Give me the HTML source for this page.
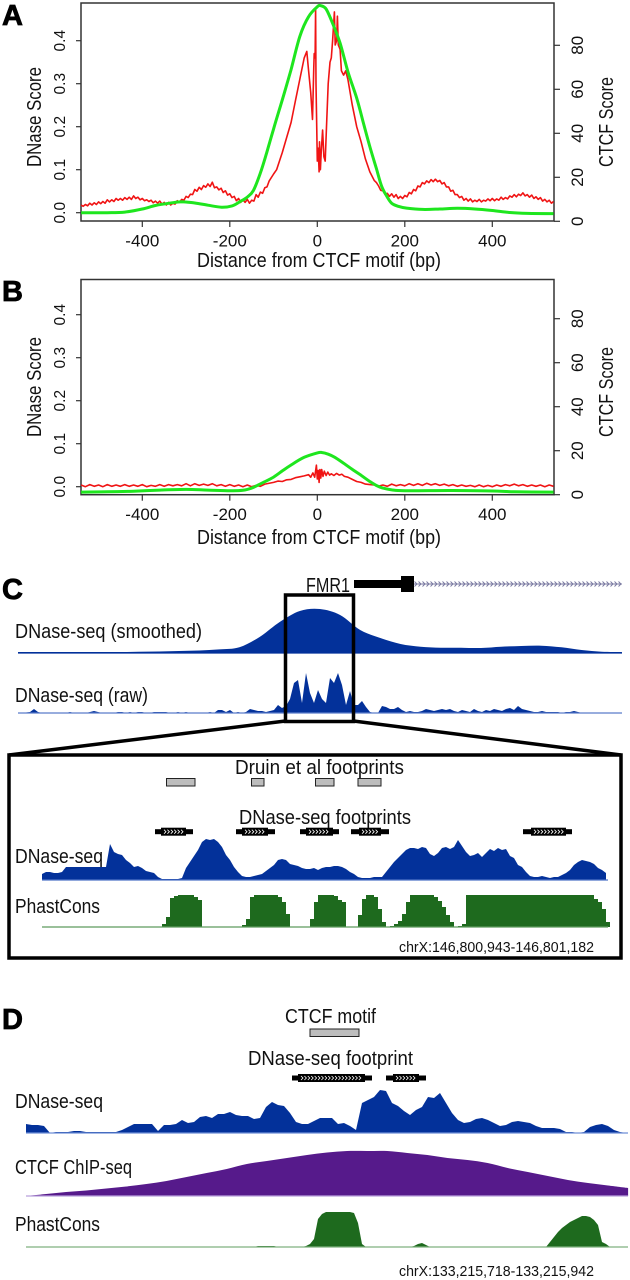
<!DOCTYPE html>
<html lang="en">
<head>
<meta charset="utf-8">
<title>CTCF footprint figure</title>
<style>
html,body{margin:0;padding:0;background:#fff;width:630px;height:1280px;overflow:hidden}
svg{display:block}
text{font-family:"Liberation Sans",sans-serif;fill:#111}
.lbl{font-size:20px}
.tick{font-size:17px}
.tickl{font-size:15.5px}
.coord{font-size:14.5px}
.letter{font-size:29px;font-weight:bold;fill:#000;stroke:#000;stroke-width:.8px}
</style>
</head>
<body>
<svg id="fig" xmlns="http://www.w3.org/2000/svg" width="630" height="1280" viewBox="0 0 630 1280">
<rect width="630" height="1280" fill="#fff"/>
<g id="chart-a"></g>
<g id="chart-b"></g>
<g id="tracks"></g>

<text class="letter" x="2" y="25">A</text>
<text class="letter" x="2" y="301">B</text>
<text class="letter" x="2" y="599">C</text>
<text class="letter" x="2" y="1029">D</text>

<text class="lbl" x="197" y="267" textLength="244" lengthAdjust="spacingAndGlyphs">Distance from CTCF motif (bp)</text>
<text class="lbl" x="197" y="544" textLength="244" lengthAdjust="spacingAndGlyphs">Distance from CTCF motif (bp)</text>
<text class="lbl" transform="translate(41,167) rotate(-90)" textLength="100" lengthAdjust="spacingAndGlyphs">DNase Score</text>
<text class="lbl" transform="translate(41,437) rotate(-90)" textLength="100" lengthAdjust="spacingAndGlyphs">DNase Score</text>
<text class="lbl" transform="translate(613,167) rotate(-90)" textLength="90" lengthAdjust="spacingAndGlyphs">CTCF Score</text>
<text class="lbl" transform="translate(613,437) rotate(-90)" textLength="90" lengthAdjust="spacingAndGlyphs">CTCF Score</text>

<text class="lbl" x="306" y="592" textLength="44" lengthAdjust="spacingAndGlyphs">FMR1</text>
<text class="lbl" x="15" y="638" textLength="187" lengthAdjust="spacingAndGlyphs">DNase-seq (smoothed)</text>
<text class="lbl" x="15" y="702" textLength="133" lengthAdjust="spacingAndGlyphs">DNase-seq (raw)</text>
<text class="lbl" x="235" y="774" textLength="169" lengthAdjust="spacingAndGlyphs">Druin et al footprints</text>
<text class="lbl" x="239" y="824" textLength="172" lengthAdjust="spacingAndGlyphs">DNase-seq footprints</text>
<text class="lbl" x="15" y="863" textLength="88" lengthAdjust="spacingAndGlyphs">DNase-seq</text>
<text class="lbl" x="15" y="913" textLength="85" lengthAdjust="spacingAndGlyphs">PhastCons</text>
<text class="coord" x="399" y="952" textLength="195" lengthAdjust="spacingAndGlyphs">chrX:146,800,943-146,801,182</text>

<text class="lbl" x="285" y="1023" textLength="91" lengthAdjust="spacingAndGlyphs">CTCF motif</text>
<text class="lbl" x="248" y="1065" textLength="165" lengthAdjust="spacingAndGlyphs">DNase-seq footprint</text>
<text class="lbl" x="15" y="1108" textLength="88" lengthAdjust="spacingAndGlyphs">DNase-seq</text>
<text class="lbl" x="15" y="1174" textLength="117" lengthAdjust="spacingAndGlyphs">CTCF ChIP-seq</text>
<text class="lbl" x="15" y="1231" textLength="85" lengthAdjust="spacingAndGlyphs">PhastCons</text>
<text class="coord" x="399" y="1276" textLength="195" lengthAdjust="spacingAndGlyphs">chrX:133,215,718-133,215,942</text>
</svg>

<script>
// ---- Panel A / B chart data ----
const xTickLabels = [-400, -200, 0, 200, 400];
const dnaseTickLabels = ["0.0", "0.1", "0.2", "0.3", "0.4"];
const ctcfTickLabels = ["0", "20", "40", "60", "80"];

const redBpA = [-540,-535,-530,-525,-520,-515,-510,-505,-500,-495,-490,-485,-480,-475,-470,-465,-460,-455,-450,-445,-440,-435,-430,-425,-420,-415,-410,-405,-400,-395,-390,-385,-380,-375,-370,-365,-360,-355,-350,-345,-340,-335,-330,-325,-320,-315,-310,-305,-300,-295,-290,-285,-280,-275,-270,-265,-260,-255,-250,-245,-240,-235,-230,-225,-220,-215,-210,-205,-200,-195,-190,-185,-180,-175,-170,-165,-160,-155,-150,-145,-140,-135,-130,-125,-120,-115,-110,-100,-93,-80,-70,-60,-50,-40,-30,-24,-20,-15,-11,-8,-7,-5,-4,-3,0,2,4,5,7,9,12,15,18,21,25,29,32,35,39,41,44,46,48,52,55,60,65,70,80,90,100,110,120,130,135,140,145,150,155,160,165,170,175,180,185,190,195,200,205,210,215,220,225,230,235,240,245,250,255,260,265,270,275,280,285,290,295,300,305,310,315,320,325,330,335,340,345,350,355,360,365,370,375,380,385,390,395,400,405,410,415,420,425,430,435,440,445,450,455,460,465,470,475,480,485,490,495,500,505,510,515,520,525,530,535,540];
const redValA = [.018,.015,.019,.016,.022,.018,.023,.019,.025,.021,.026,.022,.03,.025,.03,.026,.033,.029,.033,.029,.035,.031,.036,.031,.039,.033,.036,.03,.033,.028,.03,.026,.029,.023,.027,.022,.027,.02,.024,.018,.024,.018,.022,.02,.028,.024,.031,.029,.038,.035,.043,.042,.054,.05,.059,.054,.063,.059,.067,.061,.071,.058,.06,.053,.057,.047,.051,.041,.044,.035,.038,.028,.033,.024,.03,.024,.031,.022,.029,.027,.042,.036,.048,.045,.058,.06,.074,.09,.1,.14,.175,.21,.26,.31,.36,.375,.33,.28,.217,.34,.37,.36,.475,.3,.12,.15,.095,.165,.1,.14,.192,.13,.12,.2,.3,.35,.36,.4,.467,.39,.4,.457,.39,.38,.33,.32,.33,.31,.25,.2,.165,.125,.095,.075,.07,.062,.052,.051,.042,.045,.038,.044,.036,.042,.033,.038,.033,.04,.037,.047,.044,.054,.051,.062,.06,.07,.067,.074,.07,.077,.072,.078,.072,.075,.067,.07,.06,.06,.05,.052,.042,.042,.035,.038,.029,.033,.027,.032,.025,.029,.026,.031,.025,.029,.027,.032,.028,.033,.028,.032,.029,.036,.031,.035,.032,.039,.036,.042,.037,.043,.04,.046,.039,.042,.036,.041,.033,.037,.031,.035,.027,.031,.025,.029,.022,.026];

const greenBpA = [-540,-480,-440,-400,-370,-340,-310,-280,-250,-219,-195,-177,-160,-146,-130,-116,-100,-78,-60,-40,-20,0,8,20,35,52,70,90,105,120,135,147,160,170,185,204,240,280,320,360,400,440,480,540];
const greenValA = [3.9,3.9,4.2,5.6,7.2,8.2,8.9,8.3,7.3,6.4,7,8.9,11,14,22,31,42,56.6,69,84,93,97.5,98,96.5,90,81,68,56,45,34,24,16,11,8.2,6.8,6,5.4,5.6,5.9,5.6,4.9,4,3.6,3.5];

const redBpB = [-540,-530,-520,-510,-500,-490,-480,-470,-460,-450,-440,-430,-420,-410,-400,-390,-380,-370,-360,-350,-340,-330,-320,-310,-300,-290,-280,-270,-260,-250,-240,-230,-220,-210,-200,-190,-180,-170,-160,-150,-140,-130,-120,-100,-90,-80,-70,-60,-50,-40,-30,-20,-15,-10,-6,-2,0,2,4,6,8,10,13,16,20,24,28,32,38,44,50,56,62,70,80,90,100,110,120,130,140,150,160,170,180,190,200,210,220,230,240,250,260,270,280,290,300,310,320,330,340,350,360,370,380,390,400,410,420,430,440,450,460,470,480,490,500,510,520,530,540];
const redValB = [.004,0,.005,.001,.004,0,.005,.001,.004,.001,.005,.001,.004,.001,.005,0,.003,.001,.005,.001,.005,.002,.005,.002,.007,.002,.007,.003,.006,.003,.007,.002,.005,.001,.005,.001,.004,0,.004,0,.003,.001,.006,.01,.013,.012,.016,.017,.021,.023,.025,.028,.022,.032,.022,.05,.018,.038,.01,.04,.02,.04,.024,.036,.026,.034,.027,.03,.026,.031,.027,.029,.024,.022,.017,.012,.01,.006,.005,.004,.001,.004,.001,.006,.002,.005,.002,.007,.003,.007,.003,.008,.004,.007,.003,.006,.002,.005,.001,.004,.001,.003,0,.004,0,.003,0,.004,.001,.005,.002,.006,.002,.005,.001,.004,.001,.004,0,.004,.001];

const greenBpB = [-540,-480,-420,-360,-300,-250,-200,-170,-150,-135,-120,-100,-80,-60,-30,0,10,25,40,60,80,100,120,135,150,170,200,300,400,450,540];
const greenValB = [1.2,1.3,1.6,2.1,2.4,2.1,1.8,2,3,4.4,5.9,8,10.8,13.5,17,19,19.2,18.4,17,14.3,11.5,8.8,6,4.2,3,2.2,1.8,1.9,1.7,1.3,1.2];

// ---- Track signal data (heights, evenly spaced bins) ----
const smoothedSignal = [1,1,1,1,1,1,1.2,1.5,2,2.5,3.6,5.7,16,31,42,44,38,23,15,9,6.3,5.3,5.3,5,6.3,7,7.3,5.7,3,1.3,1];
const rawSignal = [0,0,.5,1,4,1,0,.5,0,0,0, 0,0,1,0,0,0,0,1,2,1,0, 0,0,0,1,1,0,1,0,1,1,0, 0,1,1,1,1,0,0,1,0,1,0, 0,0,0,0,1,0,3,3,1,3,0, 1,0,1,4,3,2,2,1,2,3,8, 5,7,14,30,33,10,40,20,10,23,14, 10,35,30,40,28,8,22,8,8,12,6, 1,0,0,7,6,4,4,6,3,1,2,1,1,2,4,3,2,3,4,3,4,2,1,3,2,1,4,2,1,3,2,4,3,2,4,5,3,7,4,3,2,1,1,2,1,1,1,1,0,1,1,2,1,0,0];
const innerDnaseSignal = [6,8,8,7,7,8,13,13,13,13,13,13,13,13,13,13,13,36,28,26,25,20,17,13,14,12,9,8,7,3,1,1,1,1,1,2,12,18,24,30,38,41,40,41,38,33,25,20,13,8,4,3,3,4,5,6,9,12,15,20,21,20,16,15,14,12,11,11,12,10,12,13,13,14,14,13,11,8,6,3,2,2,2,3,3,3,8,13,18,22,26,30,32,32,31,33,32,26,24,27,32,33,31,33,40,34,28,24,25,27,23,27,31,29,32,30,31,24,22,15,13,8,4,3,3,4,3,2,3,3,5,7,10,15,18,20,19,18,16,12,10,7];
const innerPhastSignal = [0,0,0,0,0,0,0,0,0,0,0,0,0,0,0,0,0,0,0,0,0,0,0,0,0,0,0,0,0,0,3,10,29,31,32,32,32,32,30,27,0,0,0,0,0,0,0,0,0,0,2,8,30,32,32,32,32,32,32,30,25,13,0,0,0,0,0,8,25,32,32,32,32,31,27,25,0,0,0,12,28,32,32,30,18,5,0,1,3,6,13,25,32,32,32,32,32,32,30,26,20,12,5,0,1,3,32,32,32,32,32,32,32,32,32,32,32,32,32,32,32,32,32,32,32,32,32,32,32,32,32,32,32,32,32,32,32,32,28,25,18,5];
const dDnaseSignal = [9,8,8,7,0,1,1,1,2,2,1,1,1,1,1,1,3,6,9,9,9,9,2,8,8,9,13,10,11,16,17,15,19,19,21,18,17,17,14,15,26,31,28,27,20,11,9,9,12,15,15,15,9,10,7,3,30,33,36,43,42,30,27,22,18,23,26,36,35,40,30,20,13,10,11,14,15,13,10,7,8,11,12,11,10,7,5,5,5,4,1,1,0,1,6,8,9,7,3,1,0];
const dChipSignal = [0,2,4,5.5,7.5,9.5,12,15,19,23,27,32,35,38,41,43.5,45,45,45,43,41,38,36,33,28,24,20,16,13,10.5,8];
const dPhastSignal = [0,0,0,0,0,0,0,0,0,0,0,0,0,0,0,0,0,0,0,0,0,0,0,0,0,0,0,0,0,0,0,0,0,0,0,0,0,0,0,0,0,0,0,0,0,0,0,0,0,0,0,0,0,0,0,0,0,0,1,1,1,1,1,0,0,0,0,0,0,0,1,3,8,28,33,35,35,35,35,35,35,35,34,24,3,0,0,0,0,0,0,0,0,0,0,0,0,1,3,4,2,0,0,0,0,0,0,0,0,0,0,0,0,0,0,0,0,0,0,0,0,0,0,0,0,0,0,0,0,0,0,5,10,15,19,22,25,27,29,31,31,30,27,22,5,3,0,0,0,0,0];

// ---- Annotation data (coordinates along each panel's track) ----
const druinStarts = [166.5, 251.5, 315.5, 358];
const druinEnds = [195, 264, 334, 381];
const fpCOuterStarts = [155, 236, 300, 351, 523];
const fpCOuterEnds = [193, 275, 339, 389, 572];
const fpCInnerStarts = [161, 242, 306, 359, 531];
const fpCInnerEnds = [186, 268, 333, 381, 566];
const fpDOuterStarts = [292, 386];
const fpDOuterEnds = [372, 426];
const fpDInnerStarts = [298, 393];
const fpDInnerEnds = [365, 419];

const NS = "http://www.w3.org/2000/svg";
function mk(parent, tag, attrs) {
  const e = document.createElementNS(NS, tag);
  for (const k in attrs) e.setAttribute(k, attrs[k]);
  parent.appendChild(e);
  return e;
}

// Catmull-Rom smoothing through a list of [x, y] points
function smoothSeg(pts) {
  let d = "";
  for (let i = 0; i < pts.length - 1; i++) {
    const p0 = pts[Math.max(i - 1, 0)], p1 = pts[i], p2 = pts[i + 1], p3 = pts[Math.min(i + 2, pts.length - 1)];
    const c1x = p1[0] + (p2[0] - p0[0]) / 6, c1y = p1[1] + (p2[1] - p0[1]) / 6;
    const c2x = p2[0] - (p3[0] - p1[0]) / 6, c2y = p2[1] - (p3[1] - p1[1]) / 6;
    d += " C" + c1x.toFixed(1) + " " + c1y.toFixed(1) + " " + c2x.toFixed(1) + " " + c2y.toFixed(1) + " " + p2[0].toFixed(1) + " " + p2[1].toFixed(1);
  }
  return d;
}

const BOX_L = 81, BOX_R = 554;
function xScale(bp) { return 317.3 + bp * 0.4375; }

function drawChart(root, top, bottom, dnaseZero, ctcfZero, redBp, redVal, greenBp, greenVal, prefix) {
  const yD = v => dnaseZero - v * 430;
  const yC = v => ctcfZero - v * 2.2;
  const ax = "#333";

  const frame = mk(root, "rect", {x: BOX_L, y: top, width: BOX_R - BOX_L, height: bottom - top, fill: "none", stroke: ax, "stroke-width": 1.5});
  
  

  xTickLabels.forEach(v => {
    const x = xScale(v);
    const t = mk(root, "line", {x1: x, x2: x, y1: bottom, y2: bottom + 6, stroke: ax, "stroke-width": 1.2});
    
    
    const l = mk(root, "text", {x: x, y: bottom + 25.5, "text-anchor": "middle", class: "tick"});
    
    
    l.textContent = String(v);
  });

  dnaseTickLabels.forEach(s => {
    const y = yD(parseFloat(s));
    const t = mk(root, "line", {x1: BOX_L - 5, x2: BOX_L, y1: y, y2: y, stroke: ax, "stroke-width": 1.2});
    
    
    const l = mk(root, "text", {transform: "translate(65," + y + ") rotate(-90)", "text-anchor": "middle", class: "tickl"});
    
    
    l.textContent = s;
  });

  ctcfTickLabels.forEach(s => {
    const y = yC(parseFloat(s));
    const t = mk(root, "line", {x1: BOX_R, x2: BOX_R + 6, y1: y, y2: y, stroke: ax, "stroke-width": 1.2});
    
    
    const l = mk(root, "text", {transform: "translate(583," + y + ") rotate(-90)", "text-anchor": "middle", class: "tick"});
    
    
    l.textContent = s;
  });

  const redLine = mk(root, "polyline", {points: redBp.map((b, i) => xScale(b).toFixed(1) + "," + yD(redVal[i]).toFixed(1)).join(" "), fill: "none", stroke: "#f01414", "stroke-width": 1.6, "stroke-linejoin": "round"});
  
  

  const gp = greenBp.map((b, i) => [xScale(b), yC(greenVal[i])]);
  const greenLine = mk(root, "path", {d: "M" + gp[0][0].toFixed(1) + " " + gp[0][1].toFixed(1) + smoothSeg(gp), fill: "none", stroke: "#1ee61e", "stroke-width": 3, "stroke-linejoin": "round"});
  
  
}

drawChart(document.getElementById("chart-a"), 3, 221, 212.7, 221.3, redBpA, redValA, greenBpA, greenValA, "panel-a");
drawChart(document.getElementById("chart-b"), 279.5, 494.7, 486.7, 494.7, redBpB, redValB, greenBpB, greenValB, "panel-b");

const tracks = document.getElementById("tracks");

function drawTrack(values, x0, step, baseY, fill, lineColor, mode, endX, name) {
  let d = "M" + x0 + " " + baseY;
  let last;
  if (mode === "step") {
    values.forEach((v, i) => {
      const x = x0 + i * step;
      d += " L" + x + " " + (baseY - v) + " L" + (x + step) + " " + (baseY - v);
    });
    last = x0 + values.length * step;
  } else if (mode === "smooth") {
    const pts = values.map((v, i) => [x0 + i * step, baseY - v]);
    d += " L" + pts[0][0] + " " + pts[0][1] + smoothSeg(pts);
    last = pts[pts.length - 1][0];
  } else {
    values.forEach((v, i) => { d += " L" + (x0 + i * step) + " " + (baseY - v); });
    last = x0 + (values.length - 1) * step;
  }
  d += " L" + last + " " + baseY + " Z";
  const area = mk(tracks, "path", {d: d, fill: fill});
  
  
  const base = mk(tracks, "line", {x1: x0, x2: endX, y1: baseY, y2: baseY, stroke: lineColor, "stroke-width": 1.3});
  
  
}

const BLUE = "#03319a", GREEN = "#1e6a1e", PURPLE = "#561a8b";
drawTrack(smoothedSignal, 18, 20.13, 653, BLUE, BLUE, "smooth", 622, "c-dnase-smoothed-track");
drawTrack(rawSignal, 18, 4, 713, BLUE, "#5b7cc9", "linear", 622, "c-dnase-raw-track");
drawTrack(innerDnaseSignal, 42, 4, 880, BLUE, "#4f74c6", "linear", 608, "c-inner-dnase-track");
drawTrack(innerPhastSignal, 42, 4, 927, GREEN, "#5e9a5e", "step", 608, "c-inner-phastcons-track");
drawTrack(dDnaseSignal, 26, 6, 1133, BLUE, "#6f8fd8", "linear", 628, "d-dnase-track");
drawTrack(dChipSignal, 26, 20.07, 1196, PURPLE, "#b9a0dc", "smooth", 628, "d-chipseq-track");
drawTrack(dPhastSignal, 26, 4, 1247, GREEN, "#7fb07f", "linear", 628, "d-phastcons-track");

// FMR1 gene model
const geneLine = mk(tracks, "line", {x1: 414, x2: 622, y1: 584, y2: 584, stroke: "#77779f", "stroke-width": 1});


for (let x = 416; x < 622; x += 4) {
  const c = mk(tracks, "polyline", {points: (x - 1.5) + ",581.5 " + (x + 1) + ",584 " + (x - 1.5) + ",586.5", fill: "none", stroke: "#77779f", "stroke-width": .9});
  
  
}
const utr = mk(tracks, "rect", {x: 354, y: 580, width: 50, height: 8, fill: "#000"});


const exon = mk(tracks, "rect", {x: 401, y: 576, width: 13, height: 16, fill: "#000"});



// Zoom box and connectors
const zoomBox = mk(tracks, "rect", {x: 285.5, y: 595, width: 68, height: 126.5, fill: "none", stroke: "#000", "stroke-width": 3.5});


const connL = mk(tracks, "line", {x1: 285.5, y1: 721, x2: 9, y2: 755, stroke: "#000", "stroke-width": 3.5});


const connR = mk(tracks, "line", {x1: 353.5, y1: 721, x2: 621, y2: 755, stroke: "#000", "stroke-width": 3.5});


const inset = mk(tracks, "rect", {x: 9, y: 755, width: 612, height: 203, fill: "none", stroke: "#000", "stroke-width": 3.5});



// Gray footprint boxes
function grayBoxes(starts, ends, y, h, name) {
  starts.forEach((s, i) => {
    const r = mk(tracks, "rect", {x: s, y: y, width: ends[i] - s, height: h, fill: "#bdbdbd", stroke: "#222", "stroke-width": 1});
    
    
  });
}
grayBoxes(druinStarts, druinEnds, 778.5, 7.5, "druin-footprint-box");
grayBoxes([310], [359], 1029, 7.5, "d-ctcf-motif-box");

// Black footprint glyphs with chevrons
function footprints(oS, oE, iS, iE, y, name) {
  oS.forEach((s, i) => {
    const bar = mk(tracks, "rect", {x: s, y: y - 2.5, width: oE[i] - s, height: 5, fill: "#000"});
    
    
    const core = mk(tracks, "rect", {x: iS[i], y: y - 4, width: iE[i] - iS[i], height: 8, fill: "#000"});
    
    
    for (let x = iS[i] + 4; x < iE[i] - 3; x += 3.4) {
      const c = mk(tracks, "polyline", {points: (x - 1) + "," + (y - 2) + " " + (x + 1) + "," + y + " " + (x - 1) + "," + (y + 2), fill: "none", stroke: "#fff", "stroke-width": .8});
      
      
    }
  });
}
footprints(fpCOuterStarts, fpCOuterEnds, fpCInnerStarts, fpCInnerEnds, 831.7, "c-footprint");
footprints(fpDOuterStarts, fpDOuterEnds, fpDInnerStarts, fpDInnerEnds, 1078, "d-footprint");
</script>
</body>
</html>
